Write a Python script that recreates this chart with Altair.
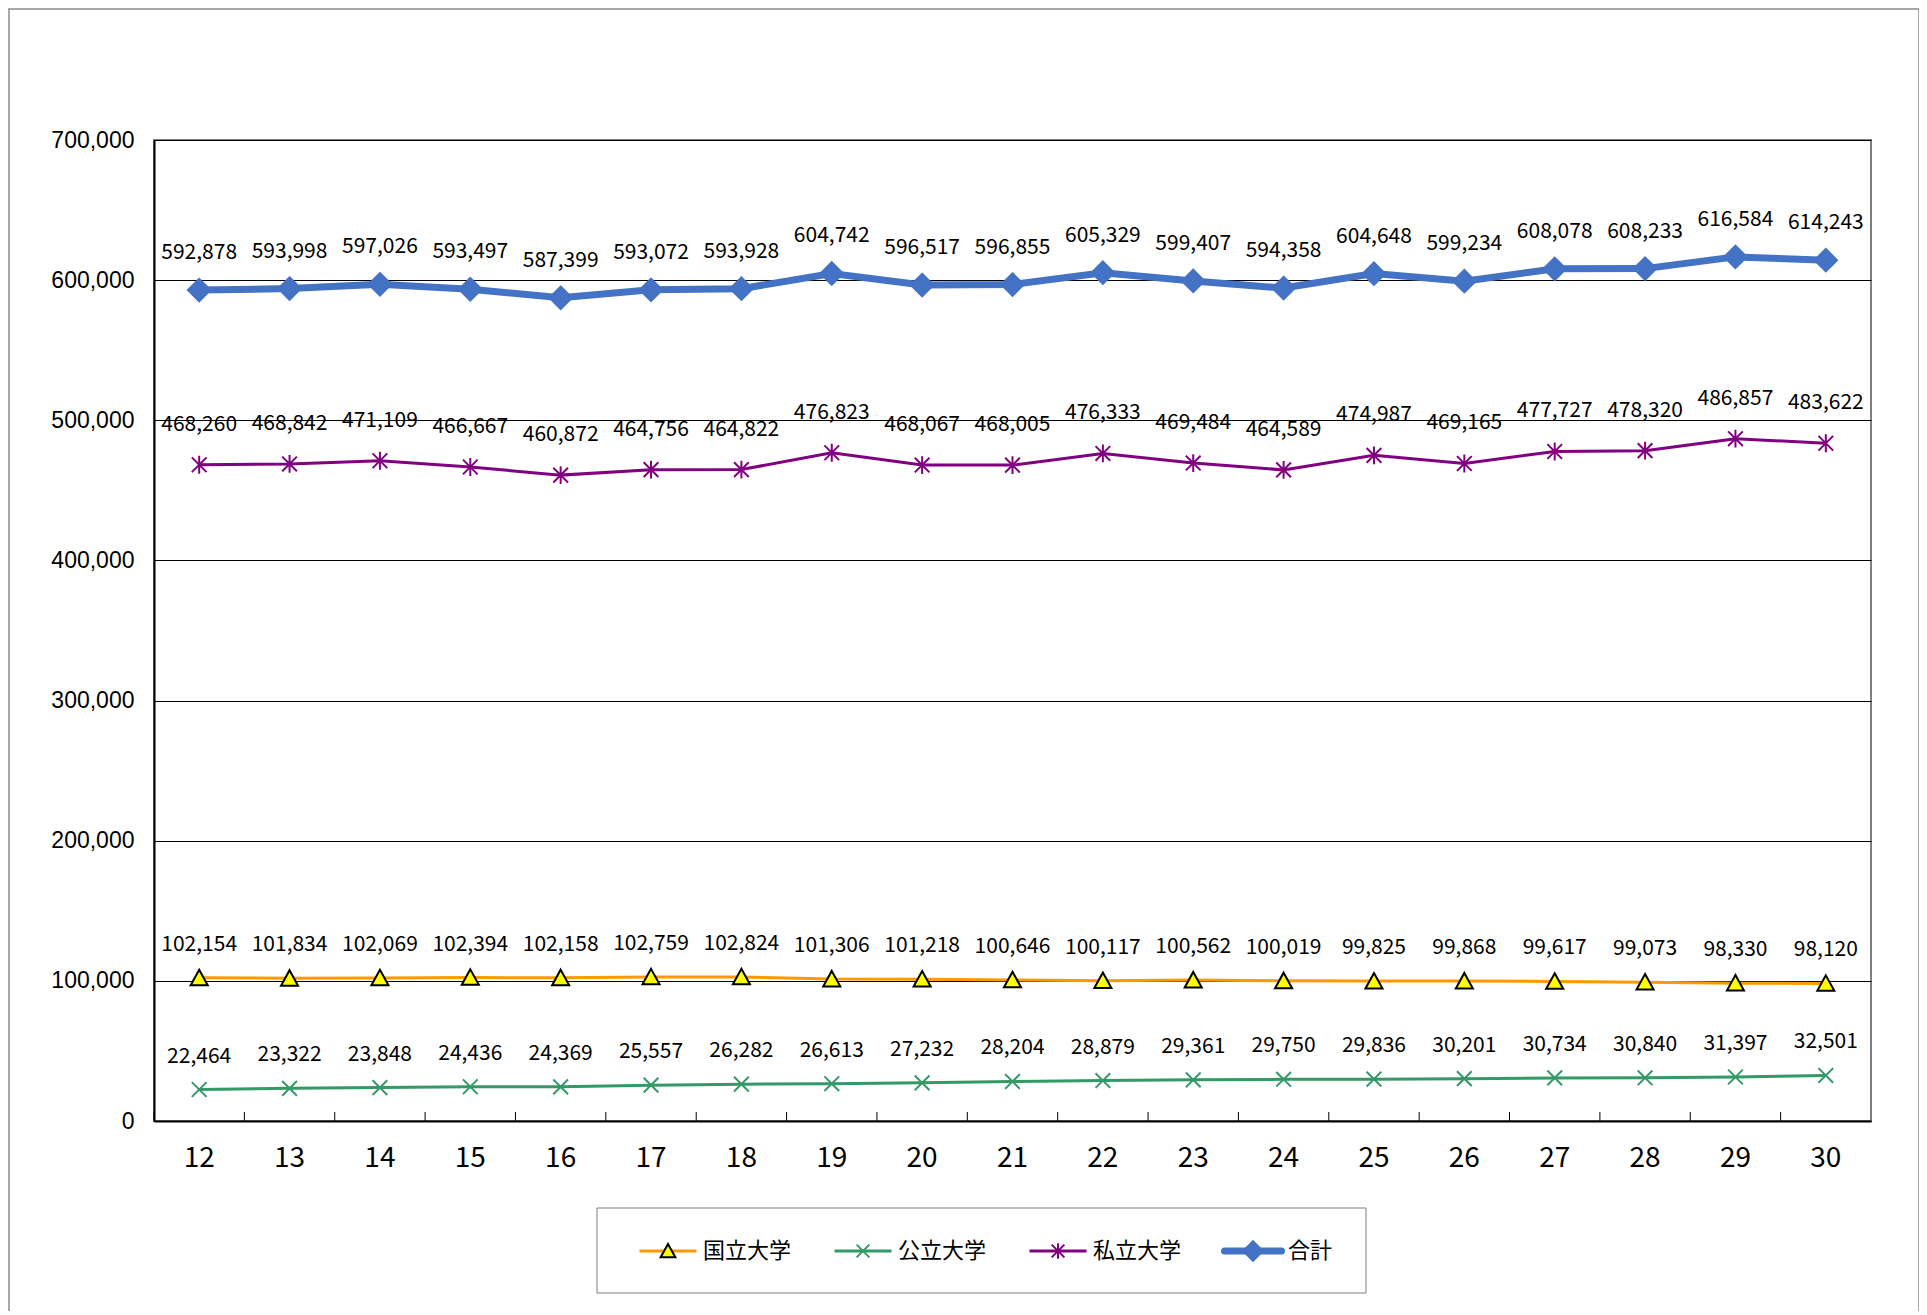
import altair as alt
import pandas as pd

years = ["12", "13", "14", "15", "16", "17", "18", "19", "20", "21",
         "22", "23", "24", "25", "26", "27", "28", "29", "30"]
series_names = ["国立大学", "公立大学", "私立大学", "合計"]

kokuritsu = [102154, 101834, 102069, 102394, 102158, 102759, 102824, 101306, 101218, 100646,
             100117, 100562, 100019, 99825, 99868, 99617, 99073, 98330, 98120]
kouritsu = [22464, 23322, 23848, 24436, 24369, 25557, 26282, 26613, 27232, 28204,
            28879, 29361, 29750, 29836, 30201, 30734, 30840, 31397, 32501]
shiritsu = [468260, 468842, 471109, 466667, 460872, 464756, 464822, 476823, 468067, 468005,
            476333, 469484, 464589, 474987, 469165, 477727, 478320, 486857, 483622]
goukei = [592878, 593998, 597026, 593497, 587399, 593072, 593928, 604742, 596517, 596855,
          605329, 599407, 594358, 604648, 599234, 608078, 608233, 616584, 614243]

y_ticks = [0, 100000, 200000, 300000, 400000, 500000, 600000, 700000]

values_by_series = [kokuritsu, kouritsu, shiritsu, goukei]

rows = []
for name, vals in zip(series_names, values_by_series):
    for y, v in zip(years, vals):
        rows.append({"year": y, "series": name, "value": v})
df = pd.DataFrame(rows)
legend_df = pd.DataFrame({"series": series_names})
one_df = pd.DataFrame({"a": [0]})

W, H = 1717, 981

line_colors = ["#FF9900", "#339966", "#800080", "#4472C4"]
marker_shapes = [
    "M0,-1.05L1.1,0.95L-1.1,0.95Z",
    "M-0.95,-0.95L0.95,0.95M-0.95,0.95L0.95,-0.95",
    "M-0.95,-0.95L0.95,0.95M-0.95,0.95L0.95,-0.95M0,-1.15L0,1.15",
    "M0,-1.45L1.45,0L0,1.45L-1.45,0Z",
]
marker_fill = ["#FFFF00", "transparent", "transparent", "#4472C4"]
marker_stroke = ["#000000", "#339966", "#800080", "#4472C4"]

color_scale = alt.Scale(domain=series_names, range=line_colors)
shape_scale = alt.Scale(domain=series_names, range=marker_shapes)
fill_scale = alt.Scale(domain=series_names, range=marker_fill)
stroke_scale = alt.Scale(domain=series_names, range=marker_stroke)

x_scale = alt.Scale(type="band", paddingInner=0, paddingOuter=0)
x_axis = alt.Axis(title=None, labelAngle=0, ticks=False, bandPosition=0.5,
                  labelFont="Noto Sans CJK JP", labelFontSize=28,
                  labelPadding=23, labelColor="black",
                  domainColor="black", domainWidth=2)
y_axis = alt.Axis(title=None, values=y_ticks,
                  labelExpr="format(datum.value, ',')",
                  grid=True, gridColor="black", gridWidth=1,
                  ticks=False, labelFont="Liberation Sans", labelFontSize=23,
                  labelPadding=20, labelColor="black",
                  domainColor="black", domainWidth=2)


def xe(bp=0.5):
    return alt.X("year:O", sort=years, scale=x_scale, bandPosition=bp, axis=x_axis)


def ye():
    return alt.Y("value:Q", scale=alt.Scale(domain=[0, 700000], nice=False), axis=y_axis)


base = alt.Chart(df)

frame = alt.Chart(one_df).mark_rect(fillOpacity=0, stroke="#8c8c8c", strokeWidth=1.5).encode(
    x=alt.value(-145), x2=alt.value(1765), y=alt.value(-131), y2=alt.value(1172))

ticks = base.transform_filter(alt.datum.series == "合計").mark_rule(color="black", strokeWidth=1).encode(
    x=xe(0), y=alt.value(H - 9), y2=alt.value(H))

lines_thin = base.transform_filter(alt.datum.series != "合計").mark_line(opacity=1, strokeWidth=3).encode(
    x=xe(), y=ye(),
    color=alt.Color("series:N", scale=color_scale, legend=None),
    detail="series:N")
lines_thick = base.transform_filter(alt.datum.series == "合計").mark_line(opacity=1, strokeWidth=7).encode(
    x=xe(), y=ye(),
    color=alt.Color("series:N", scale=color_scale, legend=None))

points = base.mark_point(opacity=1, size=240, strokeWidth=2).encode(
    x=xe(), y=ye(),
    shape=alt.Shape("series:N", scale=shape_scale, legend=None),
    fill=alt.Fill("series:N", scale=fill_scale, legend=None),
    stroke=alt.Stroke("series:N", scale=stroke_scale, legend=None))

label_dy = {"国立大学": -33, "公立大学": -33, "私立大学": -40, "合計": -37}
labels = []
for s in series_names:
    labels.append(
        base.transform_filter(alt.datum.series == s).mark_text(
            dy=label_dy[s], font="Noto Sans CJK JP", fontSize=21, color="black", baseline="middle"
        ).encode(x=xe(), y=ye(), text=alt.Text("value:Q", format=","))
    )

main = alt.layer(frame, ticks, lines_thin, lines_thick, points, *labels)

# legend drawn with the same series scales
LEG_Y = 1111
x_leg = alt.X("series:N", sort=series_names,
              scale=alt.Scale(type="point", padding=0, range=[514, 1099]), axis=None)

leg_box = alt.Chart(one_df).mark_rect(fill="white", stroke="#7f7f7f", strokeWidth=1).encode(
    x=alt.value(443), x2=alt.value(1212), y=alt.value(1068), y2=alt.value(1153))

leg_lines_thin = alt.Chart(legend_df).transform_filter(alt.datum.series != "合計").mark_point(
    shape="M-1,0H1", size=57 ** 2, filled=False, opacity=1, strokeWidth=3).encode(
    x=x_leg, y=alt.value(LEG_Y),
    color=alt.Color("series:N", scale=color_scale, legend=None))
leg_lines_thick = alt.Chart(legend_df).transform_filter(alt.datum.series == "合計").mark_point(
    shape="M-1,0H1", size=57 ** 2, filled=False, opacity=1, strokeWidth=7, strokeCap="round").encode(
    x=x_leg, y=alt.value(LEG_Y),
    color=alt.Color("series:N", scale=color_scale, legend=None))

leg_marks = alt.Chart(legend_df).mark_point(opacity=1, size=180, strokeWidth=2).encode(
    x=x_leg, y=alt.value(LEG_Y),
    shape=alt.Shape("series:N", scale=shape_scale, legend=None),
    fill=alt.Fill("series:N", scale=fill_scale, legend=None),
    stroke=alt.Stroke("series:N", scale=stroke_scale, legend=None))

leg_text = alt.Chart(legend_df).mark_text(
    align="left", dx=35, font="Noto Sans CJK JP", fontSize=22, color="black", baseline="middle"
).encode(x=x_leg, y=alt.value(LEG_Y), text="series:N")

legend = alt.layer(leg_box, leg_lines_thin, leg_lines_thick, leg_marks, leg_text)

chart = alt.layer(main, legend).resolve_scale(x="independent").properties(
    width=W, height=H,
    autosize=alt.AutoSizeParams(type="none"),
    padding={"left": 146, "top": 132, "right": 48, "bottom": 190},
    background="white",
).configure_view(stroke="#808080", strokeWidth=2)

chart.save("out.html", embed_options={"renderer": "svg", "actions": False})
